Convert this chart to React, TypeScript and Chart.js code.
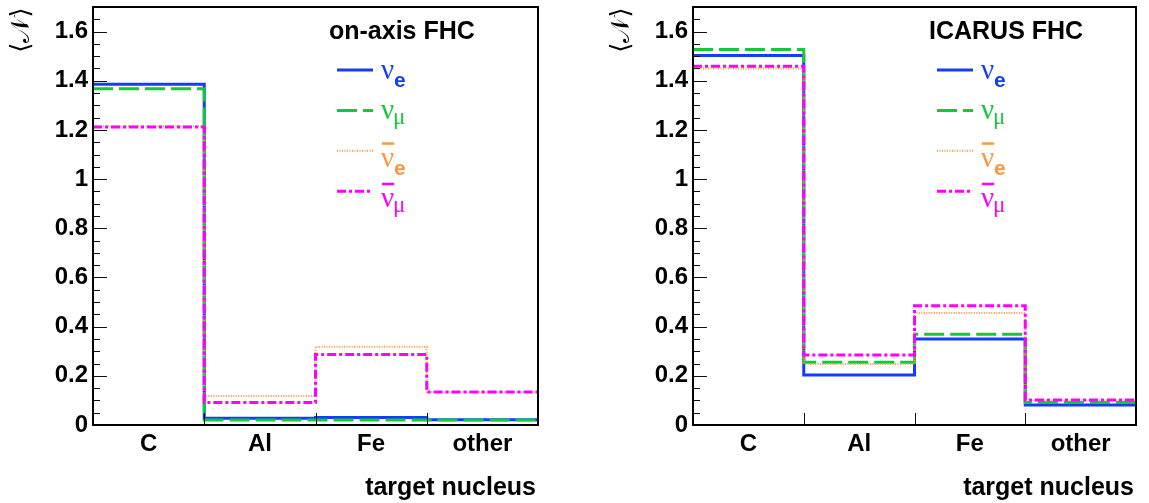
import React, { useEffect, useRef } from "react";
import { Chart, registerables } from "chart.js";

Chart.register(...registerables);

// ---------- data ----------
const categories = ["C", "Al", "Fe", "other"];
const yTickValues = [0, 0.2, 0.4, 0.6, 0.8, 1, 1.2, 1.4, 1.6];
const seriesNames = ["nue", "numu", "nuebar", "numubar"];

const onAxisNuE = [1.386, 0.027, 0.03, 0.021];
const onAxisNuMu = [1.368, 0.02, 0.02, 0.02];
const onAxisNuEBar = [1.215, 0.118, 0.318, 0.134];
const onAxisNuMuBar = [1.212, 0.091, 0.287, 0.134];

const icarusNuE = [1.503, 0.203, 0.35, 0.081];
const icarusNuMu = [1.527, 0.255, 0.369, 0.091];
const icarusNuEBar = [1.45, 0.248, 0.456, 0.1];
const icarusNuMuBar = [1.459, 0.285, 0.485, 0.102];

// ---------- styles ----------
const FONT = "'Liberation Sans', Arial, Helvetica, sans-serif";
const SERIF = "'Liberation Serif', 'DejaVu Serif', serif";
const styles = [
  { color: "rgb(20,60,255)", width: 3, dash: [] as number[], sub: "e", bar: false },
  { color: "rgb(20,200,60)", width: 3, dash: [20, 6], sub: "μ", bar: false },
  { color: "rgb(255,150,60)", width: 2, dash: [1, 1.5], sub: "e", bar: true },
  { color: "rgb(255,0,255)", width: 3, dash: [9, 3, 3, 3], sub: "μ", bar: true },
];

function toSteps(vals: number[]) {
  const pts = vals.map((v, i) => ({ x: i, y: v }));
  pts.push({ x: vals.length, y: vals[vals.length - 1] });
  return pts;
}

const decorPlugin = {
  id: "decor",
  afterDraw(chart: any, _args: any, opts: any) {
    const { ctx, chartArea: a } = chart;
    const x = chart.scales.x;
    const y = chart.scales.y;
    ctx.save();
    // tick marks
    ctx.strokeStyle = "#111";
    ctx.lineWidth = 1;
    ctx.beginPath();
    for (let k = 0; k <= 34; k++) {
      const v = k * 0.05;
      const py = Math.round(y.getPixelForValue(v)) + 0.5;
      const len = k % 4 === 0 ? 14 : 7;
      ctx.moveTo(a.left, py);
      ctx.lineTo(a.left + len, py);
    }
    for (const v of [1, 2, 3]) {
      const px = Math.round(x.getPixelForValue(v)) + 0.5;
      ctx.moveTo(px, a.bottom);
      ctx.lineTo(px, a.bottom - 12);
    }
    ctx.stroke();
    // frame
    ctx.lineWidth = 2;
    ctx.strokeStyle = "#000";
    ctx.strokeRect(a.left, a.top, a.right - a.left, a.bottom - a.top);

    // panel title
    ctx.fillStyle = "#000";
    ctx.font = `bold 25px ${FONT}`;
    ctx.textAlign = "left";
    ctx.textBaseline = "alphabetic";
    ctx.fillText(opts.title, 329, 39);

    // legend
    styles.forEach((s, i) => {
      const ly = 70 + i * 40.4;
      ctx.strokeStyle = s.color;
      ctx.lineWidth = s.width;
      ctx.setLineDash(s.dash);
      ctx.beginPath();
      ctx.moveTo(337, ly);
      ctx.lineTo(373, ly);
      ctx.stroke();
      ctx.setLineDash([]);
      ctx.fillStyle = s.color;
      ctx.font = `29px ${SERIF}`;
      const base = s.bar ? ly + 16 : ly + 8.5;
      ctx.fillText("ν", 381, base);
      const nw = ctx.measureText("ν").width;
      if (s.bar) {
        ctx.fillRect(382, ly - 8.5, nw - 1, 2.5);
      }
      if (s.sub === "e") {
        ctx.font = `bold 21px ${FONT}`;
        ctx.fillText("e", 381 + nw, base + 8.5);
      } else {
        ctx.font = `23px ${SERIF}`;
        ctx.fillText("μ", 381 + nw - 1, base + 5);
      }
    });

    // x axis title
    ctx.fillStyle = "#000";
    ctx.font = `bold 25px ${FONT}`;
    ctx.textAlign = "right";
    ctx.fillText("target nucleus", a.right - 2, 495);

    // y axis title
    ctx.save();
    ctx.translate(29, 30);
    ctx.rotate(-Math.PI / 2);
    ctx.textAlign = "center";
    ctx.font = `26px ${SERIF}`;
    ctx.fillText("⟨𝒩⟩", 0, 0);
    ctx.restore();

    ctx.restore();
  },
};

function Panel(props: { title: string; series: number[][]; left: number; width: number; padRight: number }) {
  const ref = useRef<HTMLCanvasElement>(null);
  useEffect(() => {
    const datasets = props.series.map((vals, i) => ({
      label: seriesNames[i],
      data: toSteps(vals),
      borderColor: styles[i].color,
      borderWidth: styles[i].width,
      borderDash: styles[i].dash,
      stepped: true,
      pointRadius: 0,
      fill: false,
      order: 4 - i,
    }));
    const chart = new Chart(ref.current as HTMLCanvasElement, {
      type: "line",
      data: { datasets },
      plugins: [decorPlugin],
      options: {
        animation: false,
        responsive: false,
        layout: { padding: { left: 0, right: props.padRight, top: 7, bottom: 0 } },
        plugins: {
          legend: { display: false },
          tooltip: { enabled: false },
          decor: { title: props.title },
        } as any,
        scales: {
          x: {
            type: "linear",
            min: 0,
            max: 4,
            grid: { display: false, drawTicks: false },
            border: { display: false },
            afterBuildTicks: (s: any) => {
              s.ticks = [0.5, 1.5, 2.5, 3.5].map((v) => ({ value: v }));
            },
            afterFit: (s: any) => {
              s.height = 78;
              s.paddingLeft = 0;
              s.paddingRight = 0;
            },
            ticks: {
              autoSkip: false,
              maxRotation: 0,
              padding: 5,
              color: "#000",
              font: { family: FONT, size: 24, weight: "bold" },
              callback: (v: any) => categories[Math.floor(Number(v))],
            },
          },
          y: {
            type: "linear",
            min: 0,
            max: 1.7,
            grid: { display: false, drawTicks: false },
            border: { display: false },
            afterBuildTicks: (s: any) => {
              s.ticks = yTickValues.map((v) => ({ value: v }));
            },
            afterFit: (s: any) => {
              s.width = 93;
              s.paddingTop = 0;
              s.paddingBottom = 0;
            },
            ticks: {
              autoSkip: false,
              padding: 5,
              color: "#000",
              font: { family: FONT, size: 24, weight: "bold" },
              callback: (v: any) => String(Math.round(Number(v) * 10) / 10),
            },
          },
        },
      } as any,
    });
    return () => chart.destroy();
  }, []);
  return (
    <canvas
      ref={ref}
      width={props.width}
      height={503}
      style={{ position: "absolute", left: props.left, top: 0, width: props.width, height: 503 }}
    />
  );
}

export default function App() {
  return (
    <div style={{ position: "absolute", left: 0, top: 0, width: 1149, height: 503, background: "#fff", overflow: "hidden" }}>
      <Panel
        title="on-axis FHC"
        series={[onAxisNuE, onAxisNuMu, onAxisNuEBar, onAxisNuMuBar]}
        left={0}
        width={600}
        padRight={62}
      />
      <Panel
        title="ICARUS FHC"
        series={[icarusNuE, icarusNuMu, icarusNuEBar, icarusNuMuBar]}
        left={600}
        width={549}
        padRight={13}
      />
    </div>
  );
}
